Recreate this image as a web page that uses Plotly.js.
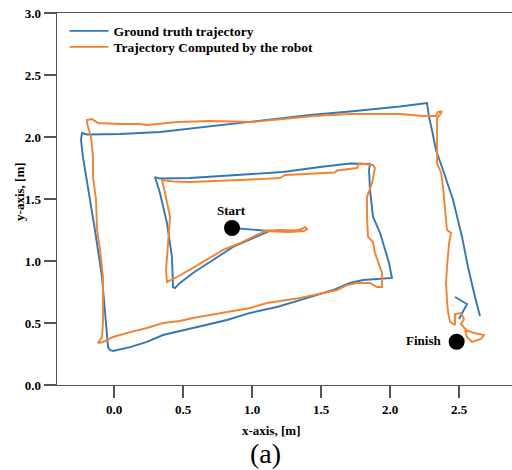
<!DOCTYPE html>
<html>
<head>
<meta charset="utf-8">
<script src="https://cdn.plot.ly/plotly-3.0.1.min.js"></script>
<style>
html,body{margin:0;padding:0;background:#fff;}
#chart{width:512px;height:470px;}
</style>
</head>
<body>
<div id="chart"></div>
<script>
// Ground truth trajectory (metres)
var gtX = [0.855,0.913,1.022,1.130,1.007,0.862,0.717,0.572,0.478,0.442,0.428,0.420,0.384,0.333,0.297,0.333,0.551,0.913,1.225,1.493,1.710,1.855,1.848,1.855,1.877,1.928,1.964,1.993,2.014,1.949,1.804,1.710,1.587,1.348,1.181,0.986,0.819,0.572,0.478,0.355,0.239,0.116,-0.007,-0.029,-0.043,-0.058,-0.087,-0.138,-0.188,-0.225,-0.239,-0.232,-0.196,0.043,0.333,0.457,0.819,0.986,1.181,1.420,1.710,2.072,2.268,2.283,2.304,2.333,2.384,2.457,2.522,2.565,2.616,2.652,null,2.471,2.558,2.500];
var gtY = [1.266,1.262,1.254,1.242,1.185,1.113,1.008,0.903,0.823,0.782,0.790,1.032,1.306,1.548,1.677,1.665,1.669,1.694,1.718,1.758,1.786,1.782,1.734,1.573,1.355,1.226,1.089,0.984,0.863,0.859,0.847,0.823,0.766,0.685,0.629,0.581,0.524,0.460,0.435,0.403,0.347,0.306,0.274,0.282,0.306,0.500,0.871,1.250,1.573,1.839,1.976,2.032,2.020,2.024,2.040,2.056,2.097,2.121,2.149,2.177,2.206,2.246,2.274,2.161,2.056,1.895,1.734,1.492,1.194,0.952,0.710,0.556,null,0.710,0.653,0.532];

// Trajectory computed by the robot (metres)
var robotX = [1.072,1.203,1.312,1.362,1.384,1.399,1.377,1.275,1.167,1.109,1.036,0.913,0.790,0.696,0.572,0.457,0.384,0.377,0.391,0.406,0.370,0.348,0.428,0.551,0.913,1.203,1.239,1.493,1.601,1.616,1.761,1.775,1.877,1.891,1.870,1.833,1.833,1.841,1.877,1.891,1.920,1.942,1.942,1.906,1.855,1.761,1.688,1.616,1.348,1.109,0.986,0.819,0.572,0.478,0.355,0.239,0.116,-0.007,-0.080,-0.116,-0.087,-0.080,-0.080,-0.080,-0.101,-0.123,-0.130,-0.152,-0.152,-0.167,-0.196,-0.196,-0.159,-0.116,0.043,0.188,0.239,0.333,0.457,0.696,1.007,1.297,1.442,1.710,2.072,2.239,2.333,2.348,2.377,2.362,2.341,2.341,2.341,2.341,2.370,2.384,2.399,2.413,2.442,2.428,2.413,2.406,2.413,2.420,2.435,2.471,2.471,2.514,2.536,2.514,2.551,2.609,2.681,2.659,2.594,2.558,2.543];
var robotY = [1.242,1.250,1.246,1.258,1.274,1.258,1.242,1.234,1.238,1.242,1.210,1.145,1.089,1.024,0.944,0.871,0.831,0.927,1.145,1.355,1.548,1.653,1.641,1.637,1.653,1.669,1.694,1.710,1.714,1.730,1.750,1.786,1.774,1.750,1.629,1.516,1.355,1.194,1.153,1.065,0.968,0.903,0.790,0.790,0.823,0.823,0.806,0.766,0.702,0.661,0.621,0.589,0.540,0.516,0.500,0.460,0.427,0.387,0.347,0.339,0.387,0.500,0.661,0.871,1.089,1.250,1.492,1.677,1.839,2.000,2.113,2.137,2.145,2.113,2.105,2.105,2.097,2.105,2.121,2.129,2.121,2.153,2.169,2.185,2.185,2.169,2.169,2.202,2.206,2.181,2.153,2.113,1.895,1.790,1.710,1.597,1.411,1.250,1.226,1.145,0.952,0.823,0.685,0.589,0.508,0.484,0.573,0.581,0.532,0.492,0.444,0.419,0.403,0.371,0.347,0.387,0.444];

// Start / Finish points
var pointLabels = ["Start", "Finish"];
var pointX = [0.855, 2.483];
var pointY = [1.266, 0.349];

var xTickVals = [0.0, 0.5, 1.0, 1.5, 2.0, 2.5];
var xTickText = ["0.0", "0.5", "1.0", "1.5", "2.0", "2.5"];
var yTickVals = [0.0, 0.5, 1.0, 1.5, 2.0, 2.5, 3.0];
var yTickText = ["0.0", "0.5", "1.0", "1.5", "2.0", "2.5", "3.0"];

var serif = "Liberation Serif, Times New Roman, serif";
var boldFont = {family: serif, size: 13, color: "#000", weight: "bold"};
var legendFont = {family: serif, size: 13.5, color: "#000", weight: "bold"};

var traces = [
  {x: gtX, y: gtY, type: "scatter", mode: "lines", name: "Ground truth trajectory",
   line: {color: "#3277b7", width: 1.9}, connectgaps: false, legend: "legend"},
  {x: robotX, y: robotY, type: "scatter", mode: "lines", name: "Trajectory Computed by the robot",
   line: {color: "#f5822e", width: 1.9}, legend: "legend2"},
  {x: pointX, y: pointY, type: "scatter", mode: "markers", showlegend: false,
   marker: {color: "#000", size: 16}}
];

var layout = {
  width: 512, height: 470,
  margin: {l: 57, r: 0, t: 13, b: 85},
  paper_bgcolor: "#fff", plot_bgcolor: "#fff",
  font: boldFont,
  showlegend: true,
  legend: {x: 0.0166, y: 0.993, xanchor: "left", yanchor: "top", bgcolor: "rgba(0,0,0,0)",
           itemwidth: 39, font: legendFont},
  legend2: {x: 0.0166, y: 0.950, xanchor: "left", yanchor: "top", bgcolor: "rgba(0,0,0,0)",
           itemwidth: 39, font: legendFont},
  xaxis: {range: [-0.413, 2.884], showgrid: false, zeroline: false,
          showline: true, linecolor: "#555", linewidth: 1.3, mirror: true,
          ticks: "outside", ticklen: 12, tickcolor: "#555", tickwidth: 1.3,
          tickvals: xTickVals, ticktext: xTickText, tickfont: boldFont},
  yaxis: {range: [0, 3], showgrid: false, zeroline: false,
          showline: true, linecolor: "#555", linewidth: 1.3, mirror: false,
          ticks: "outside", ticklen: 12, tickcolor: "#555", tickwidth: 1.3,
          tickvals: yTickVals, ticktext: yTickText, tickfont: boldFont},
  annotations: [
    {text: "x-axis, [m]", xref: "paper", yref: "paper", x: 0.472, y: -0.121,
     xanchor: "center", yanchor: "middle", showarrow: false, font: boldFont},
    {text: "y-axis, [m]", xref: "paper", yref: "paper", x: -0.0813, y: 0.519, textangle: -90,
     xanchor: "center", yanchor: "middle", showarrow: false, font: boldFont},
    {text: "(a)", xref: "paper", yref: "paper", x: 0.459, y: -0.185,
     xanchor: "center", yanchor: "middle", showarrow: false,
     font: {family: serif, size: 28, color: "#000", weight: "normal"}},
    {text: pointLabels[0], xref: "x", yref: "y", x: pointX[0], y: 1.411,
     xanchor: "center", yanchor: "middle", showarrow: false,
     font: {family: serif, size: 13, color: "#000", weight: "bold"}},
    {text: pointLabels[1], xref: "x", yref: "y", x: 2.384, y: 0.355,
     xanchor: "right", yanchor: "middle", showarrow: false,
     font: {family: serif, size: 13, color: "#000", weight: "bold"}}
  ]
};

Plotly.newPlot("chart", traces, layout, {displayModeBar: false, staticPlot: true});
</script>
</body>
</html>
